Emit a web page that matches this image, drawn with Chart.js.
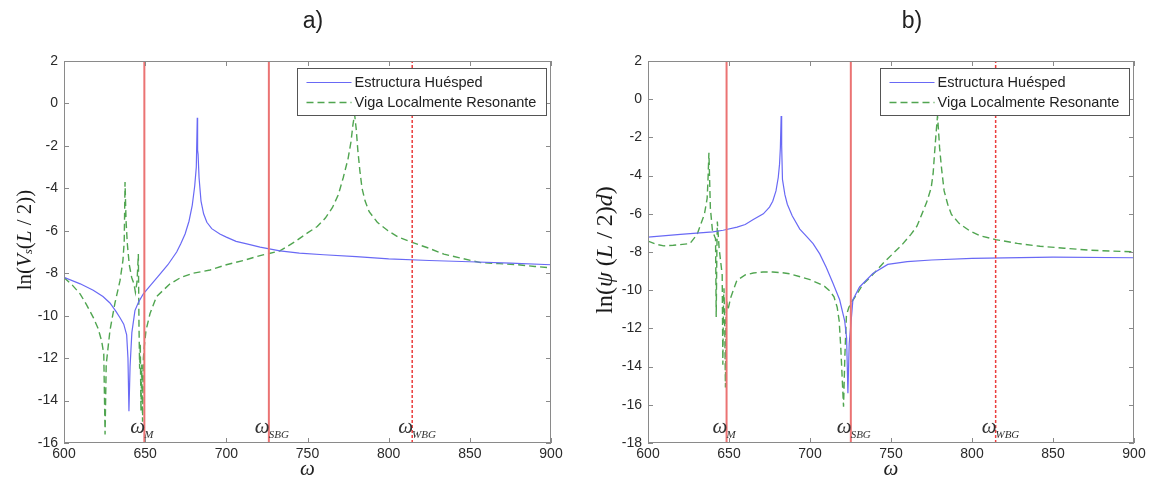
<!DOCTYPE html>
<html lang="es">
<head>
<meta charset="UTF-8">
<title>Respuesta en frecuencia</title>
<script src="https://cdn.jsdelivr.net/npm/chart.js"></script>
<style>
  html, body { margin: 0; padding: 0; background: #fff; }
  #wrap { position: relative; width: 1157px; height: 481px; }
  .panel { position: absolute; top: 0; height: 481px; }
  #panelA { left: 0; width: 578px; }
  #panelB { left: 578px; width: 579px; }
</style>
</head>
<body>
<div id="wrap">
  <div class="panel" id="panelA"><canvas id="chartA" width="578" height="481"></canvas></div>
  <div class="panel" id="panelB"><canvas id="chartB" width="579" height="481"></canvas></div>
</div>
<script>
// tick values
const xTickValues = [600, 650, 700, 750, 800, 850, 900];
const yTicksA = [2, 0, -2, -4, -6, -8, -10, -12, -14, -16];
const yTicksB = [2, 0, -2, -4, -6, -8, -10, -12, -14, -16, -18];

const seriesNames = ['Estructura Huésped', 'Viga Localmente Resonante'];
const panelTitles = ['a)', 'b)'];

// marker frequencies (omega_M, omega_SBG, omega_WBG)
const markerNames = ['M', 'SBG', 'WBG'];
const markersA = [649.5, 726.2, 814.5];
const markersB = [648.5, 725.2, 814.6];

// panel a) ln(V_s(L/2))
const hostA_w = [600, 610, 618, 624, 628.3, 632, 634.5, 636.8, 638.6, 639.4, 640, 640.7, 641.8, 643.7, 646, 648.9, 653, 659, 664, 669.4, 672, 674.6, 677, 679, 680.5, 681.5, 682.1, 682.3, 682.6, 683.2, 684.4, 686, 688, 691, 696, 700, 706, 712.6, 720.8, 733, 745, 760, 780, 800, 825, 850, 875, 900];
const hostA_v = [-8.19, -8.5, -8.8, -9.1, -9.4, -9.8, -10.1, -10.4, -10.9, -12.0, -14.5, -12.4, -10.8, -9.76, -9.35, -8.97, -8.6, -8.05, -7.6, -7.0, -6.6, -6.15, -5.55, -4.8, -3.9, -3.0, -0.67, -2.2, -2.4, -3.5, -4.6, -5.2, -5.6, -5.9, -6.15, -6.3, -6.5, -6.62, -6.77, -6.95, -7.05, -7.13, -7.22, -7.32, -7.4, -7.46, -7.52, -7.6];

const beamA_w = [600, 605, 609.9, 614, 618, 621, 623.2, 624.5, 625.3, 626, 628.3, 631.4, 634.5, 636.3, 637.1, 637.6, 638.2, 639, 640.2, 641.7, 643.1, 644, 645, 645.8, 646.2, 646.6, 647, 647.4, 647.9, 648.4, 648.9, 649.4, 650.5, 653, 657, 665.3, 672, 679.7, 690, 700, 710.5, 720.8, 733, 742.6, 750, 756, 761, 765.4, 769, 772, 775, 776.8, 778, 779, 780, 781, 782.3, 783.6, 785.5, 788, 793, 799.6, 806, 814.5, 824, 834, 845, 856.6, 868, 879.5, 890, 900];
const beamA_v = [-8.2, -8.55, -8.97, -9.5, -10.08, -10.6, -11.2, -11.8, -15.6, -12.3, -10.7, -9.4, -8.35, -7.4, -6.5, -3.7, -5.5, -6.6, -7.6, -8.2, -8.5, -8.9, -8.4, -7.1, -10.5, -12.5, -11.3, -14.5, -12.3, -15.0, -12.0, -11.5, -10.7, -9.9, -9.1, -8.5, -8.2, -8.0, -7.85, -7.6, -7.4, -7.17, -6.95, -6.5, -6.1, -5.8, -5.4, -4.9, -4.3, -3.5, -2.6, -1.8, -1.0, -0.5, -1.2, -2.2, -3.2, -4.0, -4.6, -5.1, -5.6, -6.0, -6.3, -6.55, -6.8, -7.1, -7.3, -7.5, -7.55, -7.6, -7.68, -7.75];

// panel b) ln(psi(L/2)d)
const hostB_w = [600, 620, 640, 646.4, 655, 660, 665, 671.2, 675, 677, 679, 680.4, 681.2, 681.7, 682.2, 682.5, 683, 684.5, 686, 689, 693.7, 698, 701.9, 706, 710, 714, 718.3, 721.4, 722.6, 723.4, 724.2, 724.9, 726.5, 730.6, 738.8, 748, 760, 775, 800, 850, 900];
const hostB_v = [-7.22, -7.08, -6.95, -6.86, -6.7, -6.56, -6.3, -6.0, -5.65, -5.34, -4.8, -4.1, -3.4, -2.55, -0.88, -2.4, -4.2, -5.0, -5.5, -6.1, -6.8, -7.2, -7.56, -8.1, -8.8, -9.6, -10.5, -11.6, -12.5, -15.4, -12.8, -12.1, -10.5, -9.83, -9.13, -8.65, -8.5, -8.42, -8.33, -8.27, -8.3];

const beamB_w = [600, 605, 609.8, 615.6, 625.9, 630.3, 634.8, 636.5, 637, 637.6, 638.5, 639.8, 641.2, 641.7, 642.1, 642.5, 642.8, 643.9, 645, 645.8, 646.2, 646.6, 646.9, 647.4, 647.8, 648.2, 648.6, 649.3, 651, 654.8, 660, 665, 671, 677, 682.6, 688, 694, 700, 705.6, 709, 712.3, 714.8, 716.8, 718, 719, 720.7, 721.5, 722.5, 724, 725.9, 729, 732.6, 738, 745, 751, 757, 762.3, 766, 769, 772, 774.8, 776, 777, 778, 778.7, 779.3, 780, 781.3, 782.8, 785, 787.3, 792, 798.7, 805, 814.6, 828, 842, 857, 871.5, 885, 900];
const beamB_v = [-7.43, -7.6, -7.68, -7.65, -7.56, -7.08, -6.03, -5.2, -4.3, -2.8, -5.7, -6.9, -7.2, -7.3, -11.4, -8.0, -6.4, -7.8, -8.6, -9.2, -13.9, -10.5, -9.9, -12.0, -15.1, -11.5, -10.6, -11.05, -10.4, -9.5, -9.2, -9.1, -9.05, -9.05, -9.08, -9.15, -9.3, -9.45, -9.65, -9.8, -10.05, -10.35, -10.9, -11.6, -13.0, -16.1, -13.5, -11.3, -10.9, -10.6, -10.2, -9.7, -9.25, -8.6, -8.1, -7.6, -7.08, -6.65, -6.03, -5.4, -4.64, -3.9, -2.7, -1.6, -0.88, -1.6, -2.55, -3.7, -4.8, -5.5, -6.03, -6.5, -6.9, -7.15, -7.35, -7.55, -7.7, -7.8, -7.9, -7.95, -7.99];

const BLUE = 'rgb(105,105,245)';
const GREEN = 'rgb(80,165,80)';
const RED = 'rgb(235,115,115)';
const RED_DOT = 'rgb(235,60,60)';
const SERIF = '"Liberation Serif", "DejaVu Serif", serif';
const SANS = '"Liberation Sans", Arial, sans-serif';

function pts(ws, vs) {
    return ws.map((w, i) => ({ x: w, y: vs[i] }));
}

// draw a row of text pieces (for sub-scripts), centred on cx
function drawRich(ctx, pieces, cx, cy) {
    let total = 0;
    pieces.forEach(p => { ctx.font = p.f; total += ctx.measureText(p.t).width; });
    let x = cx - total / 2;
    pieces.forEach(p => {
        ctx.font = p.f;
        ctx.fillText(p.t, x, cy + (p.dy || 0));
        x += ctx.measureText(p.t).width;
    });
}

const overlay = {
    id: 'overlay',
    afterDraw(chart, args, opts) {
        const ctx = chart.ctx;
        const a = chart.chartArea;
        const xs = chart.scales.x, ys = chart.scales.y;
        ctx.save();

        // frame
        ctx.strokeStyle = '#8a8a8a';
        ctx.lineWidth = 1;
        ctx.strokeRect(Math.round(a.left) + 0.5, Math.round(a.top) + 0.5, Math.round(a.width) - 1, Math.round(a.height) - 1);

        // inward ticks on all four sides
        ctx.beginPath();
        xTickValues.forEach(v => {
            const px = Math.round(xs.getPixelForValue(v)) + 0.5;
            ctx.moveTo(px, a.bottom); ctx.lineTo(px, a.bottom - 5);
            ctx.moveTo(px, a.top); ctx.lineTo(px, a.top + 5);
        });
        opts.yTicks.forEach(v => {
            const py = Math.round(ys.getPixelForValue(v)) + 0.5;
            ctx.moveTo(a.left, py); ctx.lineTo(a.left + 5, py);
            ctx.moveTo(a.right, py); ctx.lineTo(a.right - 5, py);
        });
        ctx.stroke();

        // marker labels
        ctx.fillStyle = '#333';
        ctx.textBaseline = 'alphabetic';
        ctx.textAlign = 'left';
        opts.markers.forEach((m, i) => {
            const px = xs.getPixelForValue(m);
            const by = a.bottom - 10;
            ctx.font = 'italic 21px ' + SERIF;
            ctx.fillText('ω', px - 14, by);
            const wω = ctx.measureText('ω').width;
            ctx.font = 'italic 11px ' + SERIF;
            ctx.fillText(markerNames[i], px - 14 + wω - 1, by + 5);
        });

        // legend box
        const bw = 249, bh = 47;
        const bx = Math.round(a.right - 5 - bw) + 0.5, by0 = Math.round(a.top + 7) + 0.5;
        ctx.fillStyle = '#fff';
        ctx.fillRect(bx, by0, bw, bh);
        ctx.strokeStyle = '#555';
        ctx.lineWidth = 1;
        ctx.strokeRect(bx, by0, bw, bh);
        const rows = [{ c: BLUE, dash: [], w: 1.2 }, { c: GREEN, dash: [7, 4], w: 1.4 }];
        rows.forEach((r, i) => {
            const ly = by0 + 14 + i * 20;
            ctx.beginPath();
            ctx.setLineDash(r.dash);
            ctx.strokeStyle = r.c;
            ctx.lineWidth = r.w;
            ctx.moveTo(bx + 9, ly); ctx.lineTo(bx + 54, ly);
            ctx.stroke();
            ctx.setLineDash([]);
            ctx.fillStyle = '#222';
            ctx.font = '14.5px ' + SANS;
            ctx.textBaseline = 'middle';
            ctx.fillText(seriesNames[i], bx + 57, ly);
        });

        // panel title
        ctx.fillStyle = '#222';
        ctx.textAlign = 'center';
        ctx.textBaseline = 'middle';
        ctx.font = '23px ' + SANS;
        ctx.fillText(opts.title, opts.titleX, 22);

        // x axis title
        ctx.font = 'italic 21px ' + SERIF;
        ctx.fillText('ω', (a.left + a.right) / 2, 469);

        // y axis title
        ctx.save();
        ctx.translate(opts.yTitleX, opts.yTitleY);
        ctx.rotate(-Math.PI / 2);
        ctx.textAlign = 'left';
        ctx.textBaseline = 'middle';
        ctx.fillStyle = '#1a1a1a';
        drawRich(ctx, opts.yTitle, 0, 0);
        ctx.restore();

        ctx.restore();
    }
};

function makeChart(id, hostW, hostV, beamW, beamV, markers, yTicks, yAxisWidth, padRight, extra) {
    const yMin = yTicks[yTicks.length - 1];
    const markerSets = markers.map((m, i) => ({
        data: [{ x: m, y: yMin }, { x: m, y: 2 }],
        borderColor: i === 2 ? RED_DOT : RED,
        borderWidth: i === 2 ? 1.5 : 2,
        borderDash: i === 2 ? [3, 2] : [],
        pointRadius: 0,
        order: 0
    }));
    return new Chart(document.getElementById(id), {
        type: 'line',
        data: {
            datasets: [
                {
                    label: seriesNames[0],
                    data: pts(hostW, hostV),
                    borderColor: BLUE,
                    borderWidth: 1.2,
                    pointRadius: 0,
                    order: 1
                },
                {
                    label: seriesNames[1],
                    data: pts(beamW, beamV),
                    borderColor: GREEN,
                    borderWidth: 1.4,
                    borderDash: [7, 4],
                    pointRadius: 0,
                    order: 2
                },
                ...markerSets
            ]
        },
        options: {
            responsive: false,
            animation: false,
            devicePixelRatio: 1,
            layout: { padding: { top: 61, right: padRight, left: 0, bottom: 0 } },
            plugins: {
                legend: { display: false },
                tooltip: { enabled: false },
                overlay: Object.assign({ markers: markers, yTicks: yTicks }, extra)
            },
            scales: {
                x: {
                    type: 'linear',
                    min: 600,
                    max: 900,
                    afterBuildTicks: s => { s.ticks = xTickValues.map(v => ({ value: v })); },
                    afterFit: s => { s.height = 38; },
                    grid: { display: false, drawTicks: false, tickLength: 0 },
                    border: { display: false },
                    ticks: { font: { family: SANS, size: 14 }, color: '#2a2a2a', padding: 3, maxRotation: 0, autoSkip: false }
                },
                y: {
                    min: yMin,
                    max: 2,
                    afterBuildTicks: s => { s.ticks = yTicks.map(v => ({ value: v })); },
                    afterFit: s => { s.width = yAxisWidth; },
                    grid: { display: false, drawTicks: false, tickLength: 0 },
                    border: { display: false },
                    ticks: { font: { family: SANS, size: 14 }, color: '#2a2a2a', padding: 6, autoSkip: false }
                }
            }
        },
        plugins: [overlay]
    });
}

const RA = '21px ' + SERIF, IA = 'italic 21px ' + SERIF, SA = 'italic 13px ' + SERIF;
const RB = '24px ' + SERIF, IB = 'italic 24px ' + SERIF;

makeChart('chartA', hostA_w, hostA_v, beamA_w, beamA_v, markersA, yTicksA, 64, 27, {
    title: panelTitles[0], titleX: 313,
    yTitleX: 25, yTitleY: 240,
    yTitle: [{ t: 'ln(', f: RA }, { t: 'V', f: IA }, { t: 's', f: SA, dy: 4 }, { t: '(', f: RA }, { t: 'L', f: IA }, { t: ' / ', f: RA }, { t: '2', f: RA }, { t: '))', f: RA }]
});

makeChart('chartB', hostB_w, hostB_v, beamB_w, beamB_v, markersB, yTicksB, 70, 23, {
    title: panelTitles[1], titleX: 334,
    yTitleX: 28, yTitleY: 250,
    yTitle: [{ t: 'ln(', f: RB }, { t: 'ψ', f: IB }, { t: ' (', f: RB }, { t: 'L', f: IB }, { t: ' / ', f: RB }, { t: '2', f: RB }, { t: ')', f: RB }, { t: 'd', f: IB }, { t: ')', f: RB }]
});
</script>
</body>
</html>
